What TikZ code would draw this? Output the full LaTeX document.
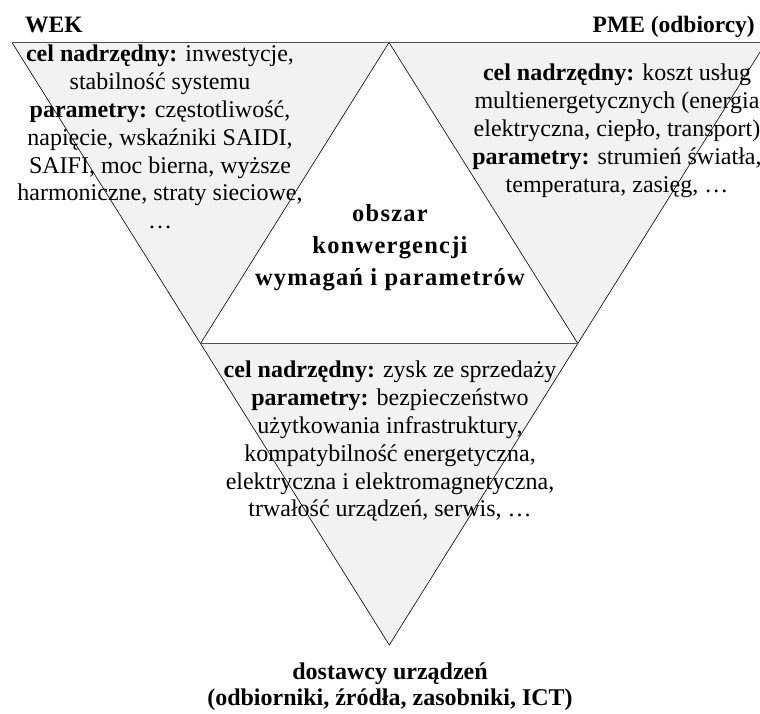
\documentclass[tikz,border=0pt]{standalone}
\usepackage{fontspec}
\setmainfont{Liberation Serif}
\newfontfamily\midfont[LetterSpace=5]{Liberation Serif}
\begin{document}
\begin{tikzpicture}[x=1pt,y=-1pt,
  body/.style={align=center,inner sep=0pt,anchor=north,font=\fontsize{24}{27.8}\selectfont},
  head/.style={inner sep=0pt,font=\fontsize{23.5}{28}\selectfont\bfseries},
  hline/.style={draw=black!68,line width=1.4pt},
  dline/.style={draw=black,line width=0.6pt},
  zone/.style={fill=black!5}]
\useasboundingbox (0,0) rectangle (760,713);
\coordinate (TL) at (12,42.5);
\coordinate (TM) at (389,42.5);
\coordinate (TR) at (766,42.5);
\coordinate (ML) at (200.7,343.3);
\coordinate (MR) at (577.7,343.3);
\coordinate (B) at (389.3,645);
\fill[zone] (TL)--(TM)--(ML)--cycle;
\fill[zone] (TM)--(TR)--(MR)--cycle;
\fill[zone] (ML)--(MR)--(B)--cycle;
\draw[dline] (TL)--(B)--(TR);
\draw[dline] (ML)--(TM)--(MR);
\draw[hline] (TL)--(TR);
\draw[hline] (ML)--(MR);
\node[head,anchor=base west] (wek) at (25,32) {WEK};
\node[head,anchor=base east] (pme) at (755,32) {PME (odbiorcy)};
\node[body] (left) at (160,45) {\textbf{cel nadrzędny:} inwestycje,\\ stabilność systemu\\ \textbf{parametry:} częstotliwość,\\ napięcie, wskaźniki SAIDI,\\ SAIFI, moc bierna, wyższe\\ harmoniczne, straty sieciowe,\\ …};
\node[body] (right) at (617,64) {\textbf{cel nadrzędny:} koszt usług\\ multienergetycznych (energia\\ elektryczna, ciepło, transport)\\ \textbf{parametry:} strumień światła,\\ temperatura, zasięg, …};
\node[body,font=\midfont\fontsize{24.5}{32}\selectfont\bfseries] (mid) at (390,204) {obszar\\ konwergencji\\ wymagań i parametrów};
\node[body] (bottom) at (390,361) {\textbf{cel nadrzędny:} zysk ze sprzedaży\\ \textbf{parametry:} bezpieczeństwo\\ użytkowania infrastruktury,\\ kompatybilność energetyczna,\\ elektryczna i elektromagnetyczna,\\ trwałość urządzeń, serwis, …};
\node[body,font=\fontsize{24}{25.5}\selectfont\bfseries] (sup) at (390,663) {dostawcy urządzeń\\ (odbiorniki, źródła, zasobniki, ICT)};
\end{tikzpicture}
\end{document}
